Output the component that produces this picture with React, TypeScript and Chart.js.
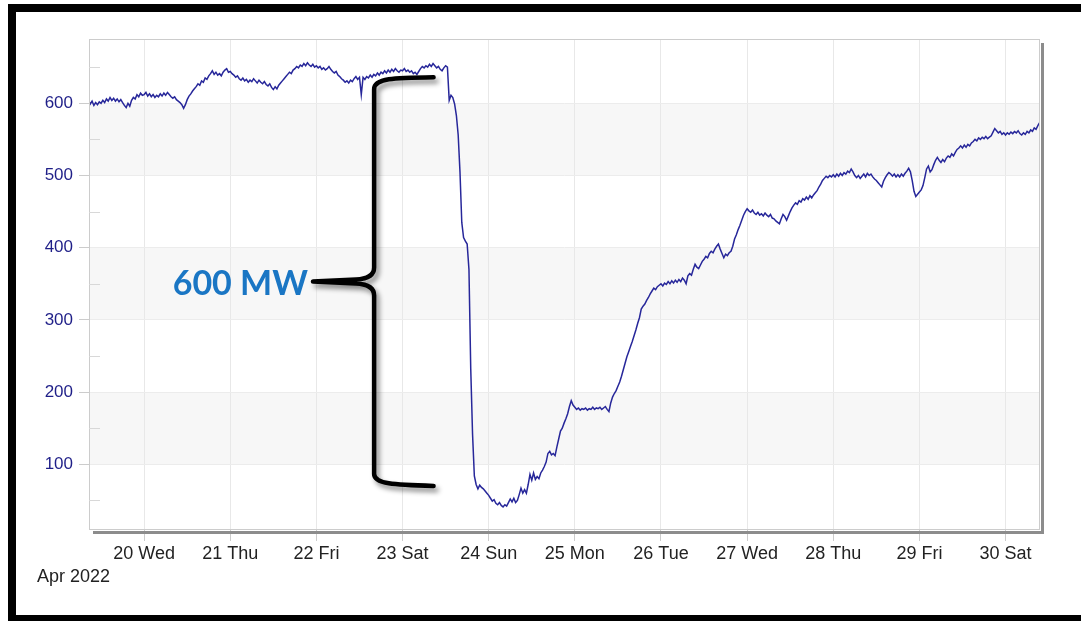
import React, { useEffect, useRef } from 'react';
import { Chart, registerables } from 'chart.js';

Chart.register(...registerables);

// Half-hourly load readings (MW), one array per day of April 2022
const apr19 = [604, 599, 603, 597, 601, 598, 602, 600, 604, 601, 606, 603, 608, 604, 607, 603, 606, 602, 605, 601, 597, 594, 600, 596, 604, 608, 606, 612, 609, 614, 611];
const apr20 = [612, 615, 610, 613, 609, 612, 608, 611, 609, 613, 610, 614, 611, 615, 612, 609, 607, 609, 605, 603, 601, 598, 593, 598, 605, 610, 613, 617, 620, 623, 627, 625, 631, 629, 635, 633, 638, 641, 645, 640, 643, 639, 641, 638, 643, 646, 648, 643];
const apr21 = [644, 641, 639, 636, 638, 634, 632, 635, 631, 633, 629, 632, 630, 634, 631, 628, 632, 629, 627, 630, 626, 624, 627, 622, 619, 623, 620, 625, 628, 631, 634, 637, 640, 643, 641, 646, 648, 651, 649, 653, 651, 655, 652, 656, 653, 651, 654, 650];
const apr22 = [652, 649, 651, 647, 649, 646, 648, 651, 647, 644, 642, 644, 639, 637, 634, 632, 629, 631, 628, 632, 630, 634, 637, 633, 636, 612, 636, 633, 637, 635, 639, 636, 640, 638, 642, 639, 643, 641, 645, 642, 646, 643, 647, 644, 648, 645, 643, 646];
const apr23 = [645, 648, 644, 646, 643, 645, 641, 643, 640, 644, 648, 651, 649, 652, 650, 654, 651, 655, 652, 649, 651, 647, 645, 649, 652, 650, 604, 611, 608, 599, 583, 556, 505, 435, 414, 409, 405, 370, 232, 142, 84, 72, 66, 71, 68, 66, 63, 60];
const apr24 = [57, 53, 49, 51, 46, 44, 47, 43, 41, 44, 42, 47, 52, 48, 53, 47, 50, 58, 67, 60, 65, 60, 72, 86, 78, 88, 79, 83, 80, 88, 92, 97, 103, 115, 118, 113, 115, 112, 124, 135, 146, 150, 157, 163, 170, 180, 188, 182];
const apr25 = [179, 176, 178, 175, 177, 176, 178, 175, 177, 176, 179, 176, 178, 177, 179, 176, 178, 180, 176, 173, 185, 193, 198, 202, 208, 214, 222, 231, 240, 249, 256, 263, 270, 278, 286, 295, 303, 315, 319, 322, 327, 331, 336, 340, 344, 342, 346, 348];
const apr26 = [350, 347, 351, 349, 353, 350, 354, 351, 355, 352, 356, 353, 358, 355, 350, 361, 364, 362, 370, 377, 373, 371, 376, 381, 384, 388, 386, 392, 395, 393, 398, 402, 405, 398, 392, 386, 391, 389, 393, 395, 402, 412, 418, 425, 431, 438, 445, 450];
const apr27 = [454, 451, 449, 452, 448, 446, 449, 445, 447, 444, 448, 445, 443, 446, 441, 440, 437, 435, 433, 440, 446, 443, 438, 444, 450, 455, 459, 462, 460, 465, 463, 468, 466, 470, 467, 472, 469, 473, 476, 479, 484, 488, 493, 496, 499, 497, 500, 498];
const apr28 = [501, 498, 502, 499, 503, 500, 504, 502, 506, 504, 509, 505, 500, 497, 500, 496, 499, 502, 498, 503, 500, 502, 498, 495, 493, 490, 487, 484, 492, 497, 501, 504, 502, 499, 502, 498, 501, 498, 502, 499, 503, 506, 510, 505, 493, 478, 471, 474];
const apr29 = [477, 480, 486, 497, 509, 513, 505, 508, 515, 521, 525, 521, 518, 522, 519, 524, 527, 525, 530, 527, 532, 536, 538, 541, 538, 542, 539, 543, 541, 545, 547, 550, 548, 552, 550, 553, 551, 554, 551, 553, 555, 560, 565, 562, 559, 561, 557, 559];
const apr30 = [556, 559, 557, 560, 558, 561, 559, 562, 558, 556, 559, 557, 561, 559, 563, 561, 566, 564, 569, 573];

const slotsPerDay = 48;
const dayBlocks = [
  { day: 19, firstSlot: 17, values: apr19 },
  { day: 20, firstSlot: 0, values: apr20 },
  { day: 21, firstSlot: 0, values: apr21 },
  { day: 22, firstSlot: 0, values: apr22 },
  { day: 23, firstSlot: 0, values: apr23 },
  { day: 24, firstSlot: 0, values: apr24 },
  { day: 25, firstSlot: 0, values: apr25 },
  { day: 26, firstSlot: 0, values: apr26 },
  { day: 27, firstSlot: 0, values: apr27 },
  { day: 28, firstSlot: 0, values: apr28 },
  { day: 29, firstSlot: 0, values: apr29 },
  { day: 30, firstSlot: 0, values: apr30 },
];

const dayTicks = [20, 21, 22, 23, 24, 25, 26, 27, 28, 29, 30];
const dayNames = ['Wed', 'Thu', 'Fri', 'Sat', 'Sun', 'Mon', 'Tue', 'Wed', 'Thu', 'Fri', 'Sat'];
const monthLabel = 'Apr 2022';
const xMin = 19.36;
const xMax = 30.4;

const yTicks = [100, 200, 300, 400, 500, 600];
const yMinorTicks = [50, 150, 250, 350, 450, 550, 650];
const yBands = [[500, 600], [300, 400], [100, 200]];
const yMin = 9;
const yMax = 689;

// Annotation: curly brace marking the 600 MW drop (in data units)
const annotationText = '600 MW';
const braceTopMW = 636;
const braceBottomMW = 70;
const braceSpineDay = 22.67;
const braceArmDay = 23.36;
const braceTipDay = 21.96;

const FONT = "'Liberation Sans', Arial, Helvetica, sans-serif";

const decorPlugin = {
  id: 'decor',
  beforeDraw(chart: any) {
    const { ctx, chartArea: a, scales } = chart;
    const y = scales.y;
    ctx.save();
    ctx.fillStyle = '#f7f7f7';
    for (const [lo, hi] of yBands) {
      const t = y.getPixelForValue(hi);
      const b = y.getPixelForValue(lo);
      ctx.fillRect(a.left, t, a.right - a.left, b - t);
    }
    ctx.restore();
  },
  afterDraw(chart: any) {
    const { ctx, chartArea: a, scales } = chart;
    const x = scales.x;
    const y = scales.y;
    ctx.save();
    // shadow of plot box
    ctx.fillStyle = '#8c8c8c';
    ctx.fillRect(a.right + 1, a.top + 4, 3, a.bottom - a.top);
    ctx.fillRect(a.left + 4, a.bottom + 1, a.right - a.left, 3);
    // plot border
    ctx.strokeStyle = '#cccccc';
    ctx.lineWidth = 1;
    ctx.strokeRect(a.left + 0.5, a.top + 0.5, a.right - a.left - 1, a.bottom - a.top - 1);
    // minor ticks inside
    ctx.strokeStyle = '#d8d8d8';
    for (const v of yMinorTicks) {
      const py = Math.round(y.getPixelForValue(v)) + 0.5;
      if (py < a.top || py > a.bottom) continue;
      ctx.beginPath();
      ctx.moveTo(a.left, py);
      ctx.lineTo(a.left + 11, py);
      ctx.stroke();
    }
    // month label
    ctx.fillStyle = '#222';
    ctx.font = `18px ${FONT}`;
    ctx.textAlign = 'left';
    ctx.textBaseline = 'middle';
    ctx.fillText(monthLabel, 37, 577);

    // curly brace
    const xs = x.getPixelForValue(braceSpineDay);
    const xa = x.getPixelForValue(braceArmDay);
    const xt = x.getPixelForValue(braceTipDay);
    const yt = y.getPixelForValue(braceTopMW);
    const yb = y.getPixelForValue(braceBottomMW);
    const ym = (yt + yb) / 2;
    ctx.shadowColor = 'rgba(0,0,0,0.45)';
    ctx.shadowBlur = 5;
    ctx.shadowOffsetX = 3;
    ctx.shadowOffsetY = 4;
    ctx.strokeStyle = '#000';
    ctx.lineWidth = 4.5;
    ctx.lineCap = 'round';
    ctx.lineJoin = 'round';
    ctx.beginPath();
    ctx.moveTo(xa, yt);
    ctx.bezierCurveTo(xa - 40, yt + 0.5, xs, yt + 1, xs, yt + 12);
    ctx.lineTo(xs, ym - 14);
    ctx.quadraticCurveTo(xs, ym - 3, xs - 18, ym - 2);
    ctx.lineTo(xt, ym);
    ctx.lineTo(xs - 18, ym + 2);
    ctx.quadraticCurveTo(xs, ym + 3, xs, ym + 14);
    ctx.lineTo(xs, yb - 12);
    ctx.bezierCurveTo(xs, yb - 2, xa - 40, yb - 1, xa, yb);
    ctx.stroke();
    ctx.shadowColor = 'rgba(0,0,0,0)';
    ctx.shadowBlur = 0;
    ctx.shadowOffsetX = 0;
    ctx.shadowOffsetY = 0;

    // annotation text
    ctx.fillStyle = '#1a76c4';
    ctx.font = "bold 34px Lato, 'Open Sans', sans-serif";
    ctx.textAlign = 'right';
    ctx.textBaseline = 'alphabetic';
    ctx.fillText(annotationText, xt - 5, ym + 13);
    ctx.restore();
  },
};

export default function App() {
  const canvasRef = useRef<HTMLCanvasElement | null>(null);

  useEffect(() => {
    const points: { x: number; y: number }[] = [];
    for (const b of dayBlocks) {
      b.values.forEach((v, i) => {
        points.push({ x: b.day + (b.firstSlot + i) / slotsPerDay, y: v });
      });
    }
    const chart = new Chart(canvasRef.current as HTMLCanvasElement, {
      type: 'line',
      data: {
        datasets: [
          {
            data: points,
            borderColor: '#27279a',
            borderWidth: 1.5,
            pointRadius: 0,
            tension: 0,
            fill: false,
          },
        ],
      },
      options: {
        responsive: false,
        animation: false,
        events: [],
        layout: { padding: { left: 0, right: 41, top: 39, bottom: 0 } },
        plugins: { legend: { display: false }, tooltip: { enabled: false }, title: { display: false } },
        scales: {
          x: {
            type: 'linear',
            min: xMin,
            max: xMax,
            afterBuildTicks: (scale: any) => {
              scale.ticks = dayTicks.map((v) => ({ value: v }));
            },
            afterFit: (scale: any) => {
              scale.height = 91;
            },
            border: { display: false },
            grid: { color: '#e8e8e8', drawTicks: true, tickLength: 11, tickColor: '#cccccc' },
            ticks: {
              autoSkip: false,
              maxRotation: 0,
              minRotation: 0,
              padding: 2,
              color: '#222',
              font: { size: 18, family: FONT },
              callback: (value: any) => {
                const idx = dayTicks.indexOf(Number(value));
                return idx >= 0 ? `${dayTicks[idx]} ${dayNames[idx]}` : '';
              },
            },
          },
          y: {
            type: 'linear',
            min: yMin,
            max: yMax,
            afterBuildTicks: (scale: any) => {
              scale.ticks = yTicks.map((v) => ({ value: v }));
            },
            afterFit: (scale: any) => {
              scale.width = 89;
            },
            border: { display: false },
            grid: { color: '#ececec', drawTicks: true, tickLength: 10, tickColor: '#cccccc' },
            ticks: {
              padding: 6,
              color: '#1f1f88',
              font: { size: 17, family: FONT },
              callback: (value: any) => String(value),
            },
          },
        },
      },
      plugins: [decorPlugin],
    });
    return () => chart.destroy();
  }, []);

  return (
    <div style={{ position: 'fixed', left: 0, top: 0, width: 1081, height: 621, overflow: 'hidden', background: '#fff' }}>
      <canvas ref={canvasRef} width={1081} height={621} style={{ position: 'absolute', left: 0, top: 0, width: 1081, height: 621 }} />
      <div
        style={{
          position: 'absolute',
          left: 8,
          top: 4,
          width: 1100,
          height: 621,
          boxSizing: 'border-box',
          borderTop: '8px solid #000',
          borderLeft: '8px solid #000',
          borderBottom: '10px solid #000',
          pointerEvents: 'none',
        }}
      />
    </div>
  );
}
